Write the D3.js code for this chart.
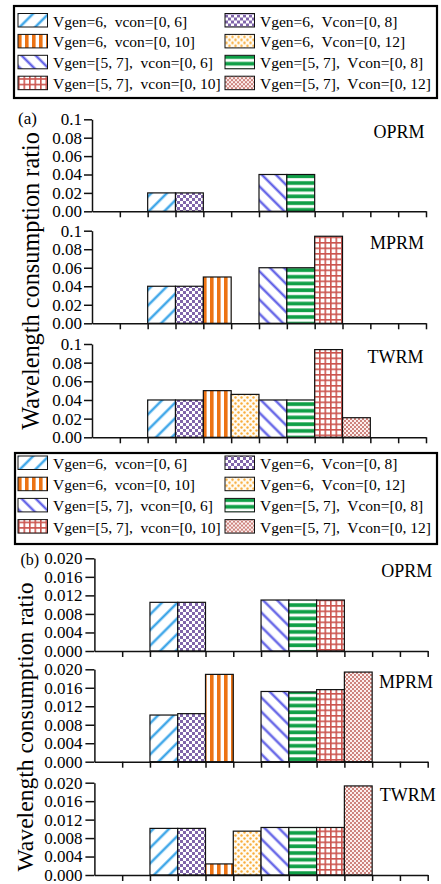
<!DOCTYPE html>
<html>
<head>
<meta charset="UTF-8">
<script src="https://d3js.org/d3.v7.min.js"></script>
<style>
  body { margin: 0; background: #fff; }
  svg text { font-family: "Liberation Serif", "Times New Roman", serif; fill: #000; }
  .axis path, .axis line { stroke: #111; stroke-width: 1.5; }
  .axis text { font-size: 17px; }
  .leg text { font-size: 15.5px; white-space: pre; }
</style>
</head>
<body>
<svg width="441" height="884"></svg>
<script>
// series names (legend order is left column = even index, right column = odd index)
const series = [
  "Vgen=6,  vcon=[0, 6]", "Vgen=6,  Vcon=[0, 8]",
  "Vgen=6,  vcon=[0, 10]", "Vgen=6,  Vcon=[0, 12]",
  "Vgen=[5, 7],  vcon=[0, 6]", "Vgen=[5, 7],  Vcon=[0, 8]",
  "Vgen=[5, 7],  vcon=[0, 10]", "Vgen=[5, 7],  Vcon=[0, 12]"
];
const models = ["OPRM", "MPRM", "TWRM"];

// (a) values
const oprmA = [0.02, 0.02, 0, 0, 0.04, 0.04, 0, 0];
const mprmA = [0.04, 0.04, 0.05, 0, 0.06, 0.06, 0.094, 0];
const twrmA = [0.04, 0.04, 0.05, 0.046, 0.04, 0.04, 0.094, 0.021];
// (b) values
const oprmB = [0.0105, 0.0105, 0, 0, 0.011, 0.011, 0.011, 0];
const mprmB = [0.0101, 0.0104, 0.0189, 0, 0.0152, 0.0151, 0.0156, 0.0194];
const twrmB = [0.0101, 0.0101, 0.0024, 0.0095, 0.0103, 0.0103, 0.0103, 0.0193];

const ticksA = [0, 0.02, 0.04, 0.06, 0.08, 0.1];
const tickLabelsA = ["0.00", "0.02", "0.04", "0.06", "0.08", "0.1"];
const ticksB = [0, 0.004, 0.008, 0.012, 0.016, 0.02];
const tickLabelsB = ["0.000", "0.004", "0.008", "0.012", "0.016", "0.020"];

const svg = d3.select("svg");
const defs = svg.append("defs");

// fill patterns, one per series
function pat(id, w, h, rot) {
  const p = defs.append("pattern").attr("id", id)
    .attr("patternUnits", "userSpaceOnUse").attr("width", w).attr("height", h);
  if (rot) p.attr("patternTransform", "rotate(" + rot + ")");
  return p;
}
let p;
p = pat("p0", 11, 11, 45);
p.append("rect").attr("width", 11).attr("height", 11).attr("fill", "#fff");
p.append("rect").attr("width", 3.2).attr("height", 11).attr("fill", "#a8d7f5");
p.append("rect").attr("x", 0.8).attr("width", 1.6).attr("height", 11).attr("fill", "#2a9de6");

p = pat("p1", 6, 6);
p.append("rect").attr("width", 6).attr("height", 6).attr("fill", "#fff");
p.append("rect").attr("width", 3).attr("height", 3).attr("fill", "#8065aa");
p.append("rect").attr("x", 3).attr("y", 3).attr("width", 3).attr("height", 3).attr("fill", "#8065aa");

p = pat("p2", 7, 10);
p.append("rect").attr("width", 7).attr("height", 10).attr("fill", "#fff");
p.append("rect").attr("width", 3.6).attr("height", 10).attr("fill", "#ec7314");

p = pat("p3", 6, 6);
p.append("rect").attr("width", 6).attr("height", 6).attr("fill", "#fffbf2");
p.append("circle").attr("cx", 1.5).attr("cy", 1.5).attr("r", 1.2).attr("fill", "#f8ad3c");
p.append("circle").attr("cx", 4.5).attr("cy", 4.5).attr("r", 1.2).attr("fill", "#f8ad3c");

p = pat("p4", 10, 10, -45);
p.append("rect").attr("width", 10).attr("height", 10).attr("fill", "#fff");
p.append("rect").attr("width", 3.2).attr("height", 10).attr("fill", "#bcbcf3");
p.append("rect").attr("x", 0.8).attr("width", 1.6).attr("height", 10).attr("fill", "#5656e6");

p = pat("p5", 10, 6.7);
p.append("rect").attr("width", 10).attr("height", 6.7).attr("fill", "#fff");
p.append("rect").attr("y", 0).attr("width", 10).attr("height", 4.2).attr("fill", "#a6dcb6");
p.append("rect").attr("y", 0.4).attr("width", 10).attr("height", 3.4).attr("fill", "#0f9f47");

p = pat("p6", 5.5, 5.5);
p.append("rect").attr("width", 5.5).attr("height", 5.5).attr("fill", "#fff");
p.append("rect").attr("width", 1.6).attr("height", 5.5).attr("fill", "#cb544e");
p.append("rect").attr("width", 5.5).attr("height", 1.6).attr("fill", "#cb544e");

p = pat("p7", 4, 4);
p.append("rect").attr("width", 4).attr("height", 4).attr("fill", "#fcefee");
p.append("circle").attr("cx", 1).attr("cy", 1).attr("r", 0.95).attr("fill", "#b9564e");
p.append("circle").attr("cx", 3).attr("cy", 3).attr("r", 0.95).attr("fill", "#b9564e");

const fills = d3.range(series.length).map(i => "url(#p" + i + ")");

// legend
function legend(x, y, w, h, base, step) {
  const g = svg.append("g").attr("class", "leg");
  g.append("rect").attr("x", x).attr("y", y).attr("width", w).attr("height", h)
    .attr("fill", "#fff").attr("stroke", "#000").attr("stroke-width", 2.2);
  const items = g.selectAll(".it").data(series).enter().append("g")
    .attr("transform", (d, i) => "translate(" + (i % 2 ? 225 : 18) + "," + (base + Math.floor(i / 2) * step) + ")");
  items.append("rect").attr("y", -13).attr("width", 29.5).attr("height", 13.5)
    .attr("fill", (d, i) => fills[i]).attr("stroke", "#111").attr("stroke-width", 1);
  items.append("text").attr("x", 35).text(d => d);
}
legend(14, 6, 423, 92, 26.5, 20.9);
legend(15, 453, 422, 91, 469, 21.2);

// one bar panel
function panel(vals, model, x0, x1, top, bottom, ticks, labels, tickLen, pad, labelX) {
  const x = d3.scaleLinear().domain([0, 12]).range([x0, x1]);
  const y = d3.scaleLinear().domain([0, ticks[ticks.length - 1]]).range([bottom, top]);
  const g = svg.append("g");
  const data = vals.map((v, i) => ({ v: v, i: i })).filter(d => d.v > 0);
  g.selectAll("rect").data(data).enter().append("rect")
    .attr("x", d => x(d.i + 2))
    .attr("y", d => y(d.v))
    .attr("width", d => x(d.i + 3) - x(d.i + 2))
    .attr("height", d => y(0) - y(d.v))
    .attr("fill", d => fills[d.i])
    .attr("stroke", "#111").attr("stroke-width", 1.2);
  g.append("g").attr("class", "axis")
    .attr("transform", "translate(0," + bottom + ")")
    .call(d3.axisBottom(x).tickValues(d3.range(1, 13)).tickFormat("").tickSize(6).tickSizeOuter(0));
  g.append("g").attr("class", "axis")
    .attr("transform", "translate(" + x0 + ",0)")
    .call(d3.axisLeft(y).tickValues(ticks).tickFormat((d, i) => labels[i])
      .tickSize(tickLen).tickPadding(pad).tickSizeOuter(0));
  g.selectAll(".axis text").attr("fill", "#000");
  g.append("text").attr("x", labelX).attr("y", top + 18.5)
    .attr("text-anchor", "end").style("font-size", "18px").text(model);
}

const boxesA = [[119.3, 211.3], [230.7, 323.3], [344, 437.3]];
const boxesB = [[558.3, 651], [669.3, 761.7], [782.7, 875]];
const labelXA = [424.5, 424, 423.5];
const labelXB = [432.3, 433, 435.7];
[oprmA, mprmA, twrmA].forEach((v, k) =>
  panel(v, models[k], 92, 426, boxesA[k][0], boxesA[k][1], ticksA, tickLabelsA, 8, 2, labelXA[k]));
[oprmB, mprmB, twrmB].forEach((v, k) =>
  panel(v, models[k], 94.4, 427.7, boxesB[k][0], boxesB[k][1], ticksB, tickLabelsB, 9, 3, labelXB[k]));

// panel tags and y titles
svg.append("text").attr("x", 18).attr("y", 124).style("font-size", "17px").text("(a)");
svg.append("text").attr("x", 20.5).attr("y", 565).style("font-size", "16px").text("(b)");
svg.append("text").attr("transform", "translate(39,281) rotate(-90)")
  .attr("text-anchor", "middle").style("font-size", "24.3px").text("Wavelength consumption ratio");
svg.append("text").attr("transform", "translate(33,727) rotate(-90)")
  .attr("text-anchor", "middle").style("font-size", "23.6px").text("Wavelength consumption ratio");
</script>
</body>
</html>
